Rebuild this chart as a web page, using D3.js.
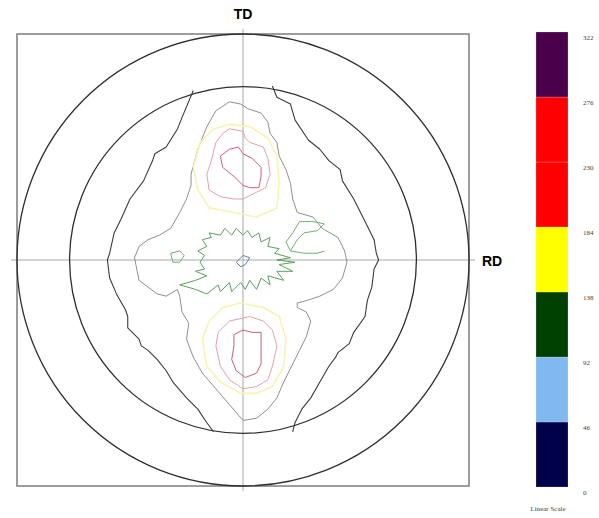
<!DOCTYPE html>
<html>
<head>
<meta charset="utf-8">
<script src="https://cdn.jsdelivr.net/npm/d3@7"></script>
<style>
  body { margin: 0; background: #fff; }
  svg { display: block; }
</style>
</head>
<body>
<div id="chart"></div>
<script>
// colour scale levels (linear scale)
const levels = [0, 46, 92, 138, 184, 230, 276, 322];
const scaleTitle = "Linear Scale";

// pole figure rings, tilt angle in degrees
const ringTilts = [75, 90];
const axisLabels = ["TD", "RD"];

// contour lines, points in % of the pole figure radius [x (RD), y (TD)]
const outerLeft = [[-22,75],[-27,63],[-29,58],[-34,50],[-39,47],[-40,44],[-44,35],[-50,27],[-54,18],[-57,12],[-59,3],[-60,0],[-59,-8],[-56,-15],[-52,-22],[-51,-25],[-51,-30],[-49,-32],[-46,-35],[-45,-38],[-42,-40],[-38,-44],[-34,-49],[-31,-54],[-25,-61],[-20,-66],[-16,-72],[-13,-76]];
const outerRight = [[13,77],[15,72],[21,69],[23,62],[29,53],[34,49],[38,44],[43,40],[44,35],[49,27],[52,21],[55,15],[58,9],[59,3],[60,0],[58,-4],[57,-12],[55,-18],[54,-25],[49,-32],[47,-37],[42,-41],[41,-43],[38,-47],[34,-54],[30,-61],[26,-66],[23,-72],[22,-76]];
const grayLoop = [[-6,70],[-1,69],[2,67],[8,65],[11,61],[12,56],[15,52],[16,46],[19,40],[21,34],[22,27],[24,21],[31,19],[35,14],[42,10],[45,4],[46,-1],[44,-8],[40,-13],[34,-16],[28,-18],[24,-19],[24,-21],[28,-23],[30,-27],[28,-34],[25,-40],[22,-46],[18,-54],[15,-61],[11,-66],[6,-70],[0,-71],[-6,-64],[-12,-57],[-18,-50],[-22,-43],[-25,-35],[-24,-28],[-27,-23],[-28,-16],[-29,-13],[-34,-16],[-38,-15],[-42,-12],[-46,-9],[-47,-4],[-48,1],[-46,6],[-42,9],[-37,11],[-32,14],[-28,21],[-25,27],[-23,33],[-23,38],[-20,49],[-16,59],[-12,66]];
const greenStar = [[-19,-1],[-17,2],[-20,4],[-16,6],[-18,9],[-14,10],[-15,12],[-10,11],[-8,14],[-5,11],[-3,14],[0,11],[2,13],[4,10],[7,12],[8,8],[12,10],[11,6],[16,5],[14,3],[21,1],[15,0],[23,-1],[16,-2],[22,-5],[15,-5],[18,-9],[11,-7],[12,-11],[8,-8],[6,-13],[3,-9],[1,-13],[-1,-10],[-5,-14],[-6,-10],[-10,-14],[-11,-11],[-16,-15],[-21,-13],[-28,-11],[-21,-9],[-16,-7],[-21,-5],[-17,-4]];
const greenWing = [[21,4],[24,9],[27,12],[33,13],[36,16],[31,17],[25,17],[22,12],[19,8]];
const greenTail = [[21,4],[27,3],[33,3],[36,4]];
const greenBlob = [[-32,3],[-28,4],[-26,2],[-28,-1],[-31,-1]];
const blueCore = [[-3,-1],[0,2],[3,1],[1,-2],[-1,-3]];
const yellowTop = [[-6,60],[3,59],[11,54],[15,46],[16,34],[15,23],[6,19],[-4,21],[-15,23],[-20,31],[-22,41],[-19,52],[-13,58]];
const redTopOuter = [[-6,58],[0,57],[1,54],[3,52],[9,50],[11,45],[12,38],[10,32],[6,30],[0,27],[-4,27],[-10,28],[-15,31],[-16,38],[-14,44],[-12,52],[-9,56]];
const redTopInner = [[-10,46],[-6,49],[-2,50],[0,47],[4,45],[8,41],[8,37],[7,32],[3,32],[0,33],[-4,37],[-9,41]];
const yellowBottom = [[-1,-19],[9,-21],[16,-25],[19,-35],[18,-47],[13,-56],[6,-59],[-1,-59],[-10,-54],[-16,-47],[-18,-35],[-15,-27],[-9,-21]];
const redBottomOuter = [[-6,-27],[3,-25],[9,-27],[13,-31],[15,-38],[13,-47],[11,-53],[6,-56],[0,-57],[-6,-53],[-10,-47],[-12,-38],[-11,-32]];
const redBottomInner = [[-4,-33],[0,-31],[4,-32],[8,-32],[8,-38],[8,-46],[6,-50],[1,-52],[-3,-49],[-5,-44],[-4,-38]];

const W = 599, H = 518;
const cx = 243, cy = 260, R = 226;

const barColors = ["#00004a", "#80b8f0", "#004000", "#ffff00", "#ff0000", "#ff0000", "#4a004a"];

const contours = [
  {pts: outerLeft, closed: false, color: "#3a3a46", w: 1.1},
  {pts: outerRight, closed: false, color: "#3a3a46", w: 1.1},
  {pts: grayLoop, closed: true, color: "#909090", w: 1},
  {pts: yellowTop, closed: true, color: "#f7f3b4", w: 1.6},
  {pts: yellowBottom, closed: true, color: "#f7f3b4", w: 1.6},
  {pts: redTopOuter, closed: true, color: "#e6a0ab", w: 1},
  {pts: redBottomOuter, closed: true, color: "#e6a0ab", w: 1},
  {pts: redTopInner, closed: true, color: "#d0607e", w: 1},
  {pts: redBottomInner, closed: true, color: "#c86078", w: 1},
  {pts: greenStar, closed: true, color: "#5aa05a", w: 1},
  {pts: greenWing, closed: true, color: "#72b072", w: 1},
  {pts: greenTail, closed: false, color: "#72b072", w: 1},
  {pts: greenBlob, closed: true, color: "#72b072", w: 1},
  {pts: blueCore, closed: true, color: "#5a80b8", w: 1}
];

const svg = d3.select("#chart").append("svg")
    .attr("width", W)
    .attr("height", H);

const x = d3.scaleLinear().domain([-100, 100]).range([cx - R, cx + R]);
const y = d3.scaleLinear().domain([-100, 100]).range([cy + R, cy - R]);
// stereographic projection of tilt angle -> % radius
const proj = a => Math.tan(a * Math.PI / 360) * 100;

// crosshair
svg.append("line")
    .attr("x1", x(-100) - 6).attr("x2", x(100) + 6)
    .attr("y1", y(0)).attr("y2", y(0))
    .attr("stroke", "#a8a8a8").attr("stroke-width", 1);
svg.append("line")
    .attr("x1", x(0)).attr("x2", x(0))
    .attr("y1", y(100) - 5).attr("y2", y(-100) + 5)
    .attr("stroke", "#a8a8a8").attr("stroke-width", 1);

// frame
svg.append("rect")
    .attr("x", x(-100)).attr("y", y(100))
    .attr("width", x(100) - x(-100)).attr("height", y(-100) - y(100))
    .attr("fill", "none")
    .attr("stroke", "#7c7c7c")
    .attr("stroke-width", 1.5);

// rings
svg.selectAll(".ring")
    .data(ringTilts)
    .enter().append("circle")
    .attr("class", "ring")
    .attr("cx", x(0)).attr("cy", y(0))
    .attr("r", d => x(proj(d)) - x(0))
    .attr("fill", "none")
    .attr("stroke", "#2e2e2e")
    .attr("stroke-width", 1.3);

// contours
const openLine = d3.line().x(d => x(d[0])).y(d => y(d[1]));
const closedLine = d3.line().x(d => x(d[0])).y(d => y(d[1])).curve(d3.curveLinearClosed);

svg.append("g").selectAll("path")
    .data(contours)
    .enter().append("path")
    .attr("d", d => (d.closed ? closedLine : openLine)(d.pts))
    .attr("fill", "none")
    .attr("stroke", d => d.color)
    .attr("stroke-width", d => d.w)
    .attr("stroke-linejoin", "round");

// axis labels
svg.append("text")
    .attr("x", x(0)).attr("y", y(100) - 15)
    .attr("text-anchor", "middle")
    .style("font", "bold 14px 'Liberation Sans', Arial, sans-serif")
    .text(axisLabels[0]);
svg.append("text")
    .attr("x", x(100) + 13).attr("y", y(0) + 6)
    .style("font", "bold 14px 'Liberation Sans', Arial, sans-serif")
    .text(axisLabels[1]);

// colour bar
const cb = d3.scaleLinear().domain([0, 322]).range([487, 32]);
const barX = 536, barW = 32;

svg.append("g").selectAll("rect")
    .data(levels.slice(0, -1))
    .enter().append("rect")
    .attr("x", barX)
    .attr("y", (d, i) => cb(levels[i + 1]))
    .attr("width", barW)
    .attr("height", (d, i) => cb(d) - cb(levels[i + 1]))
    .attr("fill", (d, i) => barColors[i])
    .attr("stroke", "rgba(255,255,255,0.35)")
    .attr("stroke-width", 0.6);

const cbAxis = d3.axisRight(cb).tickValues(levels).tickSize(0).tickPadding(0);
svg.append("g")
    .attr("transform", "translate(583, 5)")
    .call(cbAxis)
    .call(g => g.select(".domain").remove())
    .selectAll("text")
    .style("font", "7px 'Liberation Serif', serif")
    .attr("fill", "#444");

svg.append("text")
    .attr("x", barX + barW / 2 - 4).attr("y", 511)
    .attr("text-anchor", "middle")
    .style("font", "7px 'Liberation Serif', serif")
    .attr("fill", "#444")
    .text(scaleTitle);
</script>
</body>
</html>
